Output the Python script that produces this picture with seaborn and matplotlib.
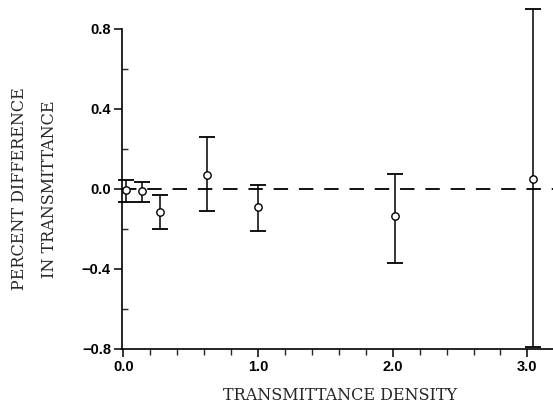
import matplotlib
matplotlib.use("Agg")
import matplotlib.pyplot as plt
import seaborn as sns
import pandas as pd
from matplotlib.ticker import MultipleLocator

density = [0.02, 0.14, 0.27, 0.62, 1.00, 2.02, 3.04]
diff = [-0.005, -0.01, -0.115, 0.07, -0.09, -0.135, 0.05]
upper = [0.045, 0.036, -0.03, 0.26, 0.02, 0.075, 0.90]
lower = [-0.065, -0.065, -0.20, -0.11, -0.21, -0.37, -0.79]

xticks = [0.0, 1.0, 2.0, 3.0]
yticks = [-0.8, -0.4, 0.0, 0.4, 0.8]
xlabel = "TRANSMITTANCE DENSITY"
ylabel1 = "PERCENT DIFFERENCE"
ylabel2 = "IN TRANSMITTANCE"

df = pd.DataFrame({"density": density, "diff": diff, "upper": upper, "lower": lower})

sns.set_style("ticks")
plt.rcParams["font.family"] = ["Liberation Sans", "DejaVu Sans"]

fig = plt.figure(figsize=(5.53, 4.08), dpi=100)
ax = fig.add_axes([122 / 553, 59 / 408, 431 / 553, 320 / 408])

ax.axhline(0, color="black", lw=1.3, ls=(0, (8, 6)), zorder=1)

yerr = [df["diff"] - df["lower"], df["upper"] - df["diff"]]
ax.errorbar(df["density"], df["diff"], yerr=yerr, fmt="none", ecolor="black",
            elinewidth=1.1, capsize=5.5, capthick=1.3, clip_on=False, zorder=2)
sns.scatterplot(data=df, x="density", y="diff", ax=ax, marker="o", s=28,
                facecolor="white", edgecolor="black", linewidth=1.0, zorder=3,
                clip_on=False)

ax.set_xlim(-0.01, 3.19)
ax.set_ylim(-0.8, 0.8)
ax.set_xticks(xticks)
ax.set_xticklabels([f"{v:.1f}" for v in xticks])
ax.set_yticks(yticks)
ax.set_yticklabels([f"{v:.1f}".replace("-", "\u2212") for v in yticks])
ax.xaxis.set_minor_locator(MultipleLocator(0.2))
ax.yaxis.set_minor_locator(MultipleLocator(0.2))
ax.tick_params(axis="both", which="major", length=6, width=1.1, direction="out",
               labelsize=10.5, colors="black", pad=2)
ax.tick_params(axis="y", which="minor", length=4, width=1.0, direction="in")
ax.tick_params(axis="x", which="minor", length=4, width=1.0, direction="out")
for lab in ax.get_xticklabels() + ax.get_yticklabels():
    lab.set_fontweight("bold")

sns.despine(ax=ax)
for s in ["left", "bottom"]:
    ax.spines[s].set_linewidth(1.2)
    ax.spines[s].set_color("black")

ax.set_xlabel("")
ax.set_ylabel("")
fig.text(340 / 553, 1 - 396 / 408, xlabel, ha="center", va="center",
         fontsize=11.5, family="DejaVu Serif")
fig.text(20 / 553, 1 - 189 / 408, ylabel1, ha="center", va="center",
         rotation=90, fontsize=11.5, family="DejaVu Serif")
fig.text(50 / 553, 1 - 189 / 408, ylabel2, ha="center", va="center",
         rotation=90, fontsize=11.5, family="DejaVu Serif")

fig.savefig("out.png", dpi=100)
